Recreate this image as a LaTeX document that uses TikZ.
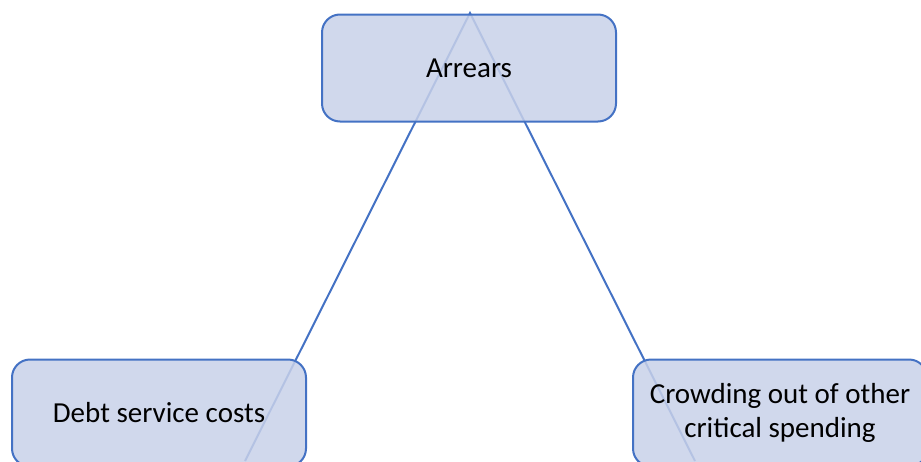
\documentclass[tikz,border=0pt]{standalone}
\usepackage{fontspec}
\setmainfont{Carlito}
\usetikzlibrary{backgrounds}
\definecolor{lineblue}{RGB}{68,114,196}
\definecolor{boxfill}{RGB}{200,209,233}
\begin{document}
\begin{tikzpicture}[x=1pt,y=-1pt,
  box/.style={draw=lineblue, line width=2pt, fill=boxfill, fill opacity=0.85, text opacity=1,
    rounded corners=18pt, minimum width=294pt, minimum height=107pt, inner sep=0pt,
    align=center, font=\fontsize{29}{34}\selectfont},
  conn/.style={draw=lineblue, line width=2pt}]
\useasboundingbox (0,0) rectangle (921,461);
\clip (0,0) rectangle (921,461);
\node[box] (arrears) at (469,68) {Arrears};
\node[box] (debt) at (159,413) {Debt service costs};
\node[box] (crowd) at (780,413) {Crowding out of other\\critical spending};
\coordinate (apex) at (470,13);
\coordinate (bl) at (245,461);
\coordinate (br) at (695,461);
\begin{scope}[on background layer]
\draw[conn] (bl) -- (apex) -- (br);
\end{scope}
\end{tikzpicture}
\end{document}
